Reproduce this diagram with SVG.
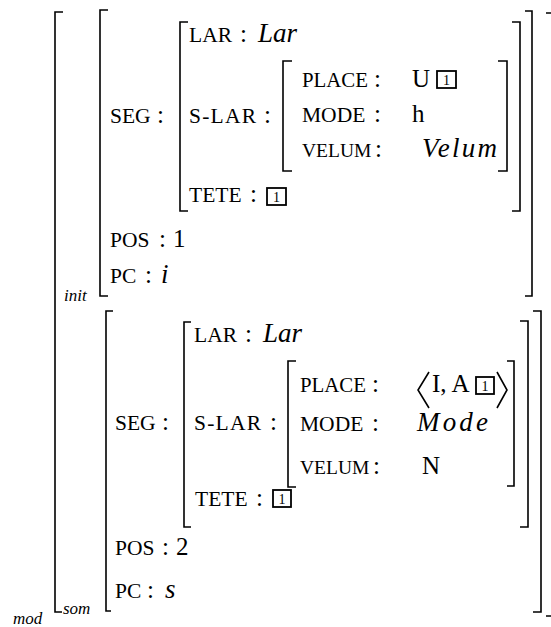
<svg xmlns="http://www.w3.org/2000/svg" width="551" height="627" viewBox="0 0 551 627">
<style>
text{font-family:"Liberation Serif","Times New Roman",serif;fill:#000}
.k{font-size:21.5px}
.v{font-size:19.5px}
.n{font-size:25px}
.m{font-size:27px;font-style:italic}
.s{font-size:17px;font-style:italic}
.d{font-size:14px;text-anchor:middle}
.b{fill:none;stroke:#000;stroke-width:1.6}
.bx{fill:none;stroke:#000;stroke-width:1.8}
</style>
<rect width="551" height="627" fill="#fff"/>
<g id="brackets">
<path class="b" d="M63,12 H55 V612 H62"/>
<path class="b" d="M546,13 H553 V616 H546"/>
<path class="b" d="M108,10 H100 V296 H108"/>
<path class="b" d="M525,11 H532 V296 H525"/>
<path class="b" d="M188,22 H180 V211 H188"/>
<path class="b" d="M512,22 H520 V211 H512"/>
<path class="b" d="M292,61 H283 V171 H292"/>
<path class="b" d="M498,61 H507 V171 H498"/>
<path class="b" d="M113,311 H106 V611 H111"/>
<path class="b" d="M533,311 H541 V612 H533"/>
<path class="b" d="M191,322 H184 V527 H191"/>
<path class="b" d="M520,321 H528 V527 H520"/>
<path class="b" d="M296,361 H288 V487 H296"/>
<path class="b" d="M507,361 H514 V486 H507"/>
<path class="b" d="M429,372 L418,390 L429,408"/>
<path class="b" d="M497,372 L507,390 L497,408"/>
</g>
<g id="init">
<text class="k" x="189" y="42">LAR</text><text class="n" x="240" y="42">:</text><text class="m" x="258" y="42">Lar</text>
<text class="k" x="110" y="123">SEG</text><text class="n" x="157" y="123">:</text>
<text class="k" x="189" y="123" textLength="67" lengthAdjust="spacing">S-LAR</text><text class="n" x="264" y="123">:</text>
<text class="k" x="302" y="87" textLength="66" lengthAdjust="spacingAndGlyphs">PLACE</text><text class="n" x="374" y="87">:</text><text class="n" x="412" y="87">U</text>
<rect class="bx" x="437" y="71" width="19" height="17"/><text class="d" x="446.5" y="85">1</text>
<text class="k" x="302" y="122">MODE</text><text class="n" x="374" y="122">:</text><text class="n" x="412" y="122">h</text>
<text class="v" x="302" y="157">VELUM</text><text class="n" x="375" y="157">:</text><text class="m" x="422" y="157" textLength="75" lengthAdjust="spacing">Velum</text>
<text class="k" x="189" y="202">TETE</text><text class="n" x="250" y="202">:</text>
<rect class="bx" x="267" y="188" width="19" height="17"/><text class="d" x="276.5" y="202">1</text>
<text class="k" x="110" y="247">POS</text><text class="n" x="159" y="247">:</text><text class="n" x="173" y="247">1</text>
<text class="k" x="110" y="283">PC</text><text class="n" x="145" y="283">:</text><text class="m" x="161" y="283">i</text>
<text class="s" x="64" y="301">init</text>
</g>
<g id="som">
<text class="k" x="194" y="342">LAR</text><text class="n" x="245" y="342">:</text><text class="m" x="263" y="342">Lar</text>
<text class="k" x="115" y="430">SEG</text><text class="n" x="162" y="430">:</text>
<text class="k" x="194" y="430" textLength="67" lengthAdjust="spacing">S-LAR</text><text class="n" x="270" y="430">:</text>
<text class="k" x="300" y="392" textLength="66" lengthAdjust="spacingAndGlyphs">PLACE</text><text class="n" x="372" y="392">:</text><text class="n" x="432" y="392">I, A</text>
<rect class="bx" x="476" y="377" width="18" height="17"/><text class="d" x="485" y="391">1</text>
<text class="k" x="300" y="431">MODE</text><text class="n" x="372" y="431">:</text><text class="m" x="417" y="431" textLength="71" lengthAdjust="spacing">Mode</text>
<text class="v" x="300" y="474">VELUM</text><text class="n" x="373" y="474">:</text><text class="n" x="422" y="474">N</text>
<text class="k" x="195" y="506">TETE</text><text class="n" x="256" y="506">:</text>
<rect class="bx" x="273" y="490" width="18" height="17"/><text class="d" x="282" y="504">1</text>
<text class="k" x="115" y="555">POS</text><text class="n" x="162" y="555">:</text><text class="n" x="176" y="555">2</text>
<text class="k" x="115" y="598">PC</text><text class="n" x="147" y="598">:</text><text class="m" x="165" y="598">s</text>
<text class="s" x="63" y="614">som</text>
<text class="s" x="13" y="624">mod</text>
</g>
</svg>
